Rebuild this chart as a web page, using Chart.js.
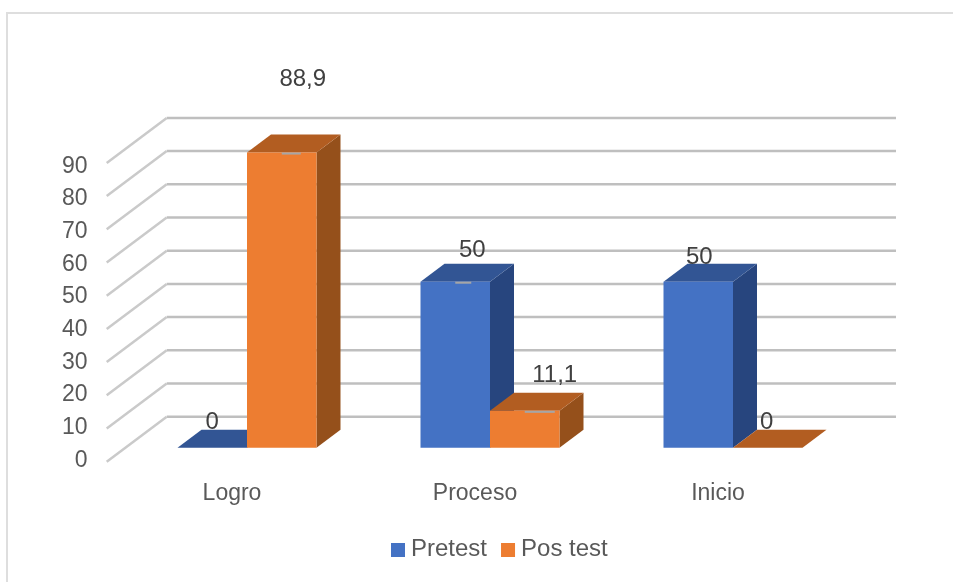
<!DOCTYPE html>
<html>
<head>
<meta charset="utf-8">
<title>Pretest y Pos test</title>
<script src="https://cdn.jsdelivr.net/npm/chart.js@4"></script>
<style>
    html, body { margin: 0; padding: 0; background: #ffffff; }
    canvas { display: block; }
</style>
</head>
<body>
<canvas id="barChart" width="953" height="582"></canvas>
<script>
const categories = ["Logro", "Proceso", "Inicio"];
const pretest = [0, 50, 50];
const posTest = [88.9, 11.1, 0];
const yTicks = [0, 10, 20, 30, 40, 50, 60, 70, 80, 90];

// label shift from the centre of each bar's top edge, [dx, dy]
const pretestLabelShift = [[0, -25], [17, -31], [1, -24]];
const posTestLabelShift = [[21, -73], [30, -35], [-1, -25]];
// length of the small leader stub on a bar's top edge, 0 = none
const pretestStub = [0, 16, 0];
const posTestStub = [19, 30, 0];

const depthX = 24;
const depthY = 18;
const wallLeft = 166.7;
const wallRight = 896;
const textColor = "#595959";
const fontName = "'Liberation Sans', Arial, sans-serif";

function poly(ctx, color, pts) {
    ctx.fillStyle = color;
    ctx.beginPath();
    pts.forEach((p, i) => (i ? ctx.lineTo(p[0], p[1]) : ctx.moveTo(p[0], p[1])));
    ctx.closePath();
    ctx.fill();
}

function drawWalls(chart) {
    const ctx = chart.ctx;
    const y = chart.scales.y;
    ctx.save();
    ctx.lineWidth = 2.5;
    yTicks.forEach((v) => {
        const py = y.getPixelForValue(v);
        ctx.strokeStyle = "#bfbfbf";
        ctx.beginPath();
        ctx.moveTo(wallLeft, py - 31);
        ctx.lineTo(wallRight, py - 31);
        ctx.stroke();
        ctx.strokeStyle = "#cacaca";
        ctx.beginPath();
        ctx.moveTo(wallLeft - 60, py + 14);
        ctx.lineTo(wallLeft, py - 31);
        ctx.stroke();
    });
    ctx.restore();
}

function drawDepth(chart, index) {
    const ctx = chart.ctx;
    const ds = chart.data.datasets[index];
    chart.getDatasetMeta(index).data.forEach((bar) => {
        const l = bar.x - bar.width / 2;
        const r = bar.x + bar.width / 2;
        poly(ctx, ds.sideColor, [[r, bar.y], [r + depthX, bar.y - depthY], [r + depthX, bar.base - depthY], [r, bar.base]]);
        poly(ctx, ds.topColor, [[l, bar.y], [l + depthX, bar.y - depthY], [r + depthX, bar.y - depthY], [r, bar.y]]);
    });
}

// Chart.js paints later datasets first; here the orange boxes must land on top
// of the blue ones, so datasets are painted in index order and the default pass is skipped
const boxPlugin = {
    id: "boxes",
    beforeDatasetsDraw(chart) {
        drawWalls(chart);
        chart.data.datasets.forEach((ds, d) => {
            drawDepth(chart, d);
            chart.getDatasetMeta(d).controller.draw();
        });
        return false;
    },
    afterDraw(chart) {
        const ctx = chart.ctx;
        ctx.save();
        ctx.font = "24px " + fontName;
        ctx.textAlign = "center";
        ctx.textBaseline = "middle";
        chart.data.datasets.forEach((ds, d) => {
            chart.getDatasetMeta(d).data.forEach((bar, i) => {
                if (ds.stubs[i]) {
                    ctx.strokeStyle = "#a6a6a6";
                    ctx.lineWidth = 2;
                    ctx.beginPath();
                    ctx.moveTo(bar.x, bar.y + 1);
                    ctx.lineTo(bar.x + ds.stubs[i], bar.y + 1);
                    ctx.stroke();
                }
                ctx.fillStyle = "#404040";
                ctx.fillText(String(ds.data[i]).replace(".", ","), bar.x + ds.labelShift[i][0], bar.y + ds.labelShift[i][1]);
            });
        });
        ctx.restore();
    },
};

// legend sits off centre with a tight swatch gap, so it is drawn by hand
const legendPlugin = {
    id: "sideLegend",
    afterDraw(chart) {
        const ctx = chart.ctx;
        ctx.save();
        ctx.font = "24px " + fontName;
        ctx.textBaseline = "middle";
        let x = 391;
        chart.data.datasets.forEach((ds) => {
            ctx.fillStyle = ds.backgroundColor;
            ctx.fillRect(x, 543, 14, 14);
            ctx.fillStyle = textColor;
            ctx.fillText(ds.label, x + 20, 549);
            x += 20 + ctx.measureText(ds.label).width + 14;
        });
        ctx.restore();
    },
};

const framePlugin = {
    id: "frame",
    beforeDraw(chart) {
        const ctx = chart.ctx;
        ctx.save();
        ctx.strokeStyle = "#dedede";
        ctx.lineWidth = 2;
        ctx.beginPath();
        ctx.moveTo(7, 582);
        ctx.lineTo(7, 13);
        ctx.lineTo(953, 13);
        ctx.stroke();
        ctx.restore();
    },
};

new Chart(document.getElementById("barChart"), {
    type: "bar",
    data: {
        labels: categories,
        datasets: [
            {
                label: "Pretest",
                data: pretest,
                backgroundColor: "#4472c4",
                sideColor: "#27457e",
                topColor: "#325594",
                labelShift: pretestLabelShift,
                stubs: pretestStub,
            },
            {
                label: "Pos test",
                data: posTest,
                backgroundColor: "#ed7d31",
                sideColor: "#95501b",
                topColor: "#b25d21",
                labelShift: posTestLabelShift,
                stubs: posTestStub,
            },
        ],
    },
    options: {
        responsive: false,
        animation: false,
        layout: { padding: { top: 148.9, right: 98.5, bottom: 0, left: 0 } },
        datasets: { bar: { barPercentage: 1, categoryPercentage: 0.572 } },
        plugins: { legend: { display: false }, tooltip: { enabled: false } },
        scales: {
            x: {
                grid: { display: false, drawTicks: false },
                border: { display: false },
                afterFit(scale) { scale.height = 134.3; },
                ticks: {
                    color: textColor,
                    font: { family: fontName, size: 23 },
                    labelOffset: -15,
                    padding: 32,
                    maxRotation: 0,
                },
            },
            // scale for the bars and walls
            y: { display: false, min: 0, max: 90 },
            // tick labels run on a slightly tighter pitch than the bars
            yLabels: {
                position: "left",
                min: 0,
                max: 91.46,
                grid: { display: false, drawTicks: false },
                border: { display: false },
                afterFit(scale) { scale.width = 125.5; },
                afterBuildTicks(scale) { scale.ticks = yTicks.map((v) => ({ value: v })); },
                ticks: {
                    color: textColor,
                    font: { family: fontName, size: 23 },
                    labelOffset: 12.5,
                    padding: 38,
                },
            },
        },
    },
    plugins: [framePlugin, boxPlugin, legendPlugin],
});
</script>
</body>
</html>
